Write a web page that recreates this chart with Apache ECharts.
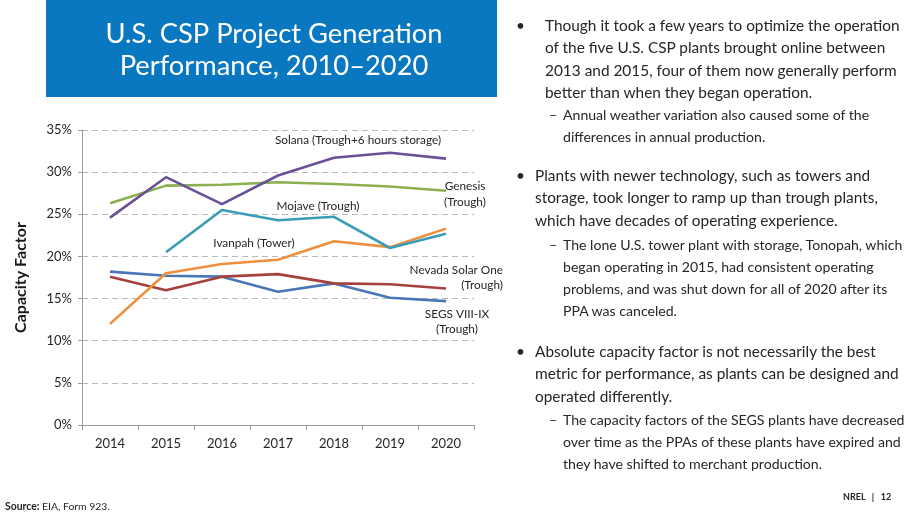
<!DOCTYPE html>
<html>
<head>
<meta charset="utf-8">
<script src="https://cdn.jsdelivr.net/npm/echarts@6/dist/echarts.min.js"></script>
<style>
  html, body { margin: 0; padding: 0; background: #fff; }
  #wrap { position: relative; width: 920px; height: 518px; overflow: hidden; font-family: Lato, "Open Sans", sans-serif; color: #262626; }
  #chart { position: absolute; left: 0; top: 0; width: 920px; height: 518px; }
  .txt { position: absolute; white-space: nowrap; }
  .b1 { font-size: 15.4px; line-height: 22.4px; }
  .b2 { font-size: 14.1px; line-height: 22px; }
</style>
</head>
<body>
<div id="wrap">
  <div id="chart"></div>

  <div class="txt b1" style="left:516px; top:14px;">•</div>
  <div class="txt b1" style="left:545px; top:14px;">Though it took a few years to optimize the operation<br>of the five U.S. CSP plants brought online between<br>2013 and 2015, four of them now generally perform<br>better than when they began operation.</div>
  <div class="txt b2" style="left:549px; top:104px;">–</div>
  <div class="txt b2" style="left:563px; top:104px;">Annual weather variation also caused some of the<br>differences in annual production.</div>

  <div class="txt b1" style="left:516px; top:164px;">•</div>
  <div class="txt b1" style="left:535px; top:164px;">Plants with newer technology, such as towers and<br>storage, took longer to ramp up than trough plants,<br>which have decades of operating experience.</div>
  <div class="txt b2" style="left:549px; top:234px;">–</div>
  <div class="txt b2" style="left:563px; top:234px;">The lone U.S. tower plant with storage, Tonopah, which<br>began operating in 2015, had consistent operating<br>problems, and was shut down for all of 2020 after its<br>PPA was canceled.</div>

  <div class="txt b1" style="left:516px; top:340px;">•</div>
  <div class="txt b1" style="left:535px; top:340px;">Absolute capacity factor is not necessarily the best<br>metric for performance, as plants can be designed and<br>operated differently.</div>
  <div class="txt b2" style="left:549px; top:409px;">–</div>
  <div class="txt b2" style="left:563px; top:409px;">The capacity factors of the SEGS plants have decreased<br>over time as the PPAs of these plants have expired and<br>they have shifted to merchant production.</div>

  <div class="txt" style="left:5px; top:500px; font-size:10.4px;"><b>Source:</b> EIA, Form 923.</div>
  <div class="txt" style="left:843px; top:491px; font-size:9px; font-weight:bold;">NREL &nbsp;&nbsp;|&nbsp;&nbsp; 12</div>
</div>

<script>
// capacity factor, %
var years = ['2014', '2015', '2016', '2017', '2018', '2019', '2020'];
var segs    = [18.2, 17.7, 17.6, 15.8, 16.8, 15.1, 14.7];
var nevada  = [17.6, 16.0, 17.6, 17.9, 16.8, 16.7, 16.2];
var ivanpah = [12.0, 18.0, 19.1, 19.6, 21.8, 21.1, 23.3];
var mojave  = ['-', 20.5, 25.5, 24.3, 24.7, 21.0, 22.7];
var genesis = [26.3, 28.4, 28.5, 28.8, 28.6, 28.3, 27.8];
var solana  = [24.6, 29.4, 26.2, 29.6, 31.7, 32.3, 31.6];

function line(name, data, color) {
  return {
    name: name,
    type: 'line',
    data: data,
    symbol: 'none',
    lineStyle: { color: color, width: 2.6 },
    itemStyle: { color: color },
    z: 3
  };
}

var lbl = { fontFamily: 'Lato, "Open Sans", sans-serif', fontSize: 11.8, fill: '#262626' };
function text(x, y, str, align) {
  return {
    type: 'text', x: x, y: y,
    style: Object.assign({ text: str, textAlign: align || 'center', textVerticalAlign: 'middle' }, lbl)
  };
}

var option = {
  animation: false,
  grid: { left: 82, right: 446, top: 130, bottom: 93 },
  xAxis: {
    type: 'category',
    data: years,
    axisLine: { lineStyle: { color: '#9a9a9a', width: 1 } },
    axisTick: { show: true, length: 5, lineStyle: { color: '#9a9a9a' } },
    axisLabel: { color: '#262626', fontSize: 13, margin: 12, fontFamily: 'Lato, sans-serif' }
  },
  yAxis: {
    type: 'value',
    min: 0, max: 35, interval: 5,
    name: 'Capacity Factor',
    nameLocation: 'middle',
    nameGap: 53,
    nameTextStyle: { fontSize: 16, fontWeight: 'bold', color: '#1a1a1a', fontFamily: 'Lato, sans-serif' },
    axisLine: { show: true, lineStyle: { color: '#9a9a9a' } },
    axisTick: { show: true, length: 4, lineStyle: { color: '#9a9a9a' } },
    axisLabel: { formatter: '{value}%', color: '#262626', fontSize: 13, margin: 10, fontFamily: 'Lato, sans-serif' },
    splitLine: { lineStyle: { color: '#b8b8b8', type: [6, 4], width: 1 } }
  },
  series: [
    line('SEGS VIII-IX', segs, '#4876b6'),
    line('Nevada Solar One', nevada, '#a5403d'),
    line('Ivanpah', ivanpah, '#ee8f3d'),
    line('Mojave', mojave, '#3a9db6'),
    line('Genesis', genesis, '#8cb050'),
    line('Solana', solana, '#6b5097')
  ],
  graphic: [
    { type: 'rect', shape: { x: 46, y: 0, width: 451, height: 97 }, style: { fill: '#0a78c0' } },
    { type: 'text', x: 274, y: 34, style: { text: 'U.S. CSP Project Generation', fill: '#fff', fontSize: 27.3, fontFamily: 'Lato, "Open Sans", sans-serif', textAlign: 'center', textVerticalAlign: 'middle' } },
    { type: 'text', x: 274, y: 66, style: { text: 'Performance, 2010\u20132020', fill: '#fff', fontSize: 27.3, fontFamily: 'Lato, "Open Sans", sans-serif', textAlign: 'center', textVerticalAlign: 'middle' } },
    text(358, 140, 'Solana (Trough+6 hours storage)'),
    text(465, 186, 'Genesis'),
    text(465, 202, '(Trough)'),
    text(318, 206, 'Mojave (Trough)'),
    text(254, 243, 'Ivanpah (Tower)'),
    text(503, 270, 'Nevada Solar One', 'right'),
    text(503, 285, '(Trough)', 'right'),
    text(457, 314, 'SEGS VIII-IX'),
    text(457, 329, '(Trough)')
  ]
};

var myChart = echarts.init(document.getElementById('chart'));
myChart.setOption(option);
</script>
</body>
</html>
